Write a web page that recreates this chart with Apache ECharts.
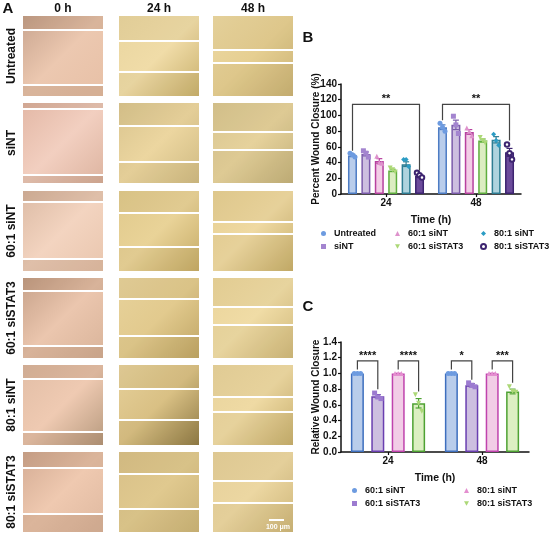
<!DOCTYPE html>
<html>
<head>
<meta charset="UTF-8">
<title>Wound closure</title>
<script src="https://cdn.jsdelivr.net/npm/echarts@6/dist/echarts.min.js"></script>
<style>
html,body{margin:0;padding:0;background:#fff;}
#main{width:550px;height:535px;}
</style>
</head>
<body>
<div id="main"></div>
<script>
// ---- data ----
var times = ['24', '48'];

// panel B
var bGroups = ['Untreated', 'siNT', '60:1 siNT', '60:1 siSTAT3', '80:1 siNT', '80:1 siSTAT3'];
var bMean = [[49, 85], [51, 88], [42, 79], [30, 68], [38, 69], [23, 53]];
var bSem = [[1.5, 3], [2.5, 6], [3, 3], [1.5, 2], [3, 4], [2, 5]];
var bPoints = [
  [[52, 50, 47], [90, 85, 80]],
  [[55, 52, 47], [99, 88, 77]],
  [[48, 40, 39], [84, 80, 74]],
  [[33, 31, 28], [72, 68, 65]],
  [[44, 44, 35], [76, 68, 62]],
  [[27, 24, 21], [63, 52, 44]]
];
var bYTicks = [0, 20, 40, 60, 80, 100, 120, 140];
// [time index, from bar, to bar, bracket level, left leg end, right leg end, label]
var bSig = [
  [0, 0, 5, 114, 55, 30, '**'],
  [1, 0, 5, 114, 94, 68, '**']
];

// panel C
var cGroups = ['60:1 siNT', '60:1 siSTAT3', '80:1 siNT', '80:1 siSTAT3'];
var cMean = [[1.0, 1.0], [0.71, 0.85], [1.0, 1.0], [0.62, 0.77]];
var cSem = [[0, 0], [0.02, 0.02], [0, 0], [0.06, 0.03]];
var cPoints = [
  [[1.0, 1.0, 1.0], [1.0, 1.0, 1.0]],
  [[0.75, 0.70, 0.68], [0.88, 0.85, 0.83]],
  [[1.0, 1.0, 1.0], [1.0, 1.0, 1.0]],
  [[0.73, 0.62, 0.52], [0.83, 0.77, 0.76]]
];
var cYTicks = [0, 0.2, 0.4, 0.6, 0.8, 1.0, 1.2, 1.4];
var cSig = [
  [0, 0, 1, 1.16, 1.05, 0.80, '****'],
  [0, 2, 3, 1.16, 1.05, 0.77, '****'],
  [1, 0, 1, 1.16, 1.05, 0.92, '*'],
  [1, 2, 3, 1.16, 1.05, 0.88, '***']
];

// panel A labels
var rowLabels = ['Untreated', 'siNT', '60:1 siNT', '60:1 siSTAT3', '80:1 siNT', '80:1 siSTAT3'];
var colLabels = ['0 h', '24 h', '48 h'];

// ---- styles ----
var FONT = 'Liberation Sans, Arial, sans-serif';
var bStyle = [
  {fill: '#b9cdeb', line: '#4d7cc4', pt: '#6d9be0', sym: 'circle'},
  {fill: '#cdbfe0', line: '#7b5cab', pt: '#a384cf', sym: 'rect'},
  {fill: '#f2cde6', line: '#b7419f', pt: '#de92cc', sym: 'triangle'},
  {fill: '#dcedc2', line: '#5fae3e', pt: '#acd877', sym: 'path://M0,0L10,0L5,9Z'},
  {fill: '#aed3de', line: '#2e7d93', pt: '#2b9cc4', sym: 'diamond'},
  {fill: '#6b4b9b', line: '#3d2470', pt: '#3d2470', sym: 'emptyCircle'}
];
var cStyle = [
  {fill: '#b9cdeb', line: '#3e6fbe', pt: '#6d9be0', sym: 'circle'},
  {fill: '#cdbfe0', line: '#6a3fb0', pt: '#9c7bd0', sym: 'rect'},
  {fill: '#f2cde6', line: '#c043ad', pt: '#e48fd0', sym: 'triangle'},
  {fill: '#dcefc2', line: '#4ea233', pt: '#acd877', sym: 'path://M0,0L10,0L5,9Z'}
];

// bar pitch in px for each panel
var bPitch = 13.4, bBarW = 9;
var cPitch = 20.4, cBarW = 13;

function axisCommon(gi) {
  return {
    gridIndex: gi,
    axisLine: {show: true, lineStyle: {color: '#111', width: 1.5}},
    axisTick: {show: true, length: 3, lineStyle: {color: '#111', width: 1.2}},
    axisLabel: {color: '#111', fontWeight: 'bold', fontSize: 10, fontFamily: FONT, margin: 4},
    splitLine: {show: false},
    nameMoveOverlap: false,
    nameTextStyle: {color: '#111', fontWeight: 'bold', fontSize: 10.5, fontFamily: FONT}
  };
}

var xB = axisCommon(0);
xB.type = 'category'; xB.data = times; xB.axisTick.alignWithLabel = true;
xB.name = 'Time (h)'; xB.nameLocation = 'middle'; xB.nameGap = 21;
var xC = axisCommon(1);
xC.type = 'category'; xC.data = times; xC.axisTick.alignWithLabel = true;
xC.name = 'Time (h)'; xC.nameLocation = 'middle'; xC.nameGap = 21;

var yB = axisCommon(0);
yB.type = 'value'; yB.min = 0; yB.max = 140; yB.interval = 20;
yB.name = 'Percent Wound Closure (%)'; yB.nameLocation = 'middle'; yB.nameGap = 20;
yB.nameTextStyle.fontSize = 10;
var yC = axisCommon(1);
yC.type = 'value'; yC.min = 0; yC.max = 1.4; yC.interval = 0.2;
yC.axisLabel.formatter = function (v) { return v.toFixed(1); };
yC.name = 'Relative Wound Closure'; yC.nameLocation = 'middle'; yC.nameGap = 20;
yC.nameTextStyle.fontSize = 10;

var series = [];

function addPanel(gi, groups, means, sems, points, styles, pitch, barW, sig, jit, symSize) {
  var n = groups.length;
  groups.forEach(function (g, i) {
    series.push({
      type: 'bar', name: g, xAxisIndex: gi, yAxisIndex: gi,
      barWidth: barW, barGap: Math.round((pitch - barW) / barW * 100) + '%',
      data: means[i],
      itemStyle: {color: styles[i].fill, borderColor: styles[i].line, borderWidth: 1.5},
      z: 2
    });
  });
  // error bars
  var errData = [];
  groups.forEach(function (g, i) {
    times.forEach(function (t, k) { errData.push([k, i, means[i][k], sems[i][k]]); });
  });
  series.push({
    type: 'custom', xAxisIndex: gi, yAxisIndex: gi, z: 3, silent: true,
    data: errData, encode: {x: 0, y: 2},
    renderItem: function (params, api) {
      var k = api.value(0), i = api.value(1), m = api.value(2), s = api.value(3);
      var dx = (i - (n - 1) / 2) * pitch;
      var top = api.coord([k, m + s]), bot = api.coord([k, m - s]);
      var x = top[0] + dx;
      var col = styles[i].line;
      return {type: 'group', children: [
        {type: 'line', shape: {x1: x, y1: top[1], x2: x, y2: bot[1]}, style: {stroke: col, lineWidth: 1.2}},
        {type: 'line', shape: {x1: x - 3, y1: top[1], x2: x + 3, y2: top[1]}, style: {stroke: col, lineWidth: 1.2}},
        {type: 'line', shape: {x1: x - 3, y1: bot[1], x2: x + 3, y2: bot[1]}, style: {stroke: col, lineWidth: 1.2}}
      ]};
    }
  });
  // individual points
  groups.forEach(function (g, i) {
    var dx = (i - (n - 1) / 2) * pitch;
    var d = [];
    times.forEach(function (t, k) {
      points[i][k].forEach(function (v, j) {
        d.push({value: [k, v], symbolOffset: [dx + (j - 1) * jit, 0]});
      });
    });
    var empty = styles[i].sym === 'emptyCircle';
    series.push({
      type: 'scatter', name: g, xAxisIndex: gi, yAxisIndex: gi, z: 4,
      symbol: styles[i].sym, symbolSize: empty ? 4.5 : symSize, data: d,
      itemStyle: {color: styles[i].pt, borderColor: styles[i].pt, borderWidth: empty ? 1 : 0, opacity: 1}
    });
  });
  // significance brackets
  series.push({
    type: 'custom', xAxisIndex: gi, yAxisIndex: gi, z: 5, silent: true,
    data: sig.map(function (r) { return [r[0], r[1], r[2], r[3], r[4], r[5]]; }),
    encode: {x: 0, y: 3},
    renderItem: function (params, api) {
      var r = sig[params.dataIndex];
      var c = api.coord([r[0], r[3]])[0];
      var x1 = c + (r[1] - (n - 1) / 2) * pitch;
      var x2 = c + (r[2] - (n - 1) / 2) * pitch;
      var yl = api.coord([r[0], r[3]])[1];
      var ya = api.coord([r[0], r[4]])[1];
      var yb = api.coord([r[0], r[5]])[1];
      return {type: 'group', children: [
        {type: 'polyline', shape: {points: [[x1, ya], [x1, yl], [x2, yl], [x2, yb]]},
          style: {stroke: '#444', lineWidth: 1.2, fill: null}},
        {type: 'text', x: (x1 + x2) / 2, y: yl - 5,
          style: {text: r[6], fill: '#111', font: 'bold 11px ' + FONT, align: 'center', verticalAlign: 'middle'}}
      ]};
    }
  });
}

addPanel(0, bGroups, bMean, bSem, bPoints, bStyle, bPitch, bBarW, bSig, 2.5, 5);
addPanel(1, cGroups, cMean, cSem, cPoints, cStyle, cPitch, cBarW, cSig, 3.2, 5);

function legendCol(left, top, names, styles, allNames) {
  return {
    orient: 'vertical', left: left, top: top, itemWidth: 5, itemHeight: 5, itemGap: 4,
    selectedMode: false, padding: 0,
    textStyle: {color: '#111', fontWeight: 'bold', fontSize: 9, fontFamily: FONT, padding: [0, 0, 0, 3]},
    data: names.map(function (nm) {
      var s = styles[allNames.indexOf(nm)];
      var empty = s.sym === 'emptyCircle';
      return {name: nm, icon: s.sym, itemStyle: {color: s.pt, borderColor: s.pt, borderWidth: empty ? 0.8 : 0}};
    })
  };
}

var legends = [
  legendCol(321, 229, ['Untreated', 'siNT'], bStyle, bGroups),
  legendCol(395, 229, ['60:1 siNT', '60:1 siSTAT3'], bStyle, bGroups),
  legendCol(480, 229, ['80:1 siNT', '80:1 siSTAT3'], bStyle, bGroups),
  legendCol(352, 486, ['60:1 siNT', '60:1 siSTAT3'], cStyle, cGroups),
  legendCol(464, 486, ['80:1 siNT', '80:1 siSTAT3'], cStyle, cGroups)
];

// ---- panel A: micrograph placeholders ----
var imgX = [23, 119, 213], imgY = [16, 103, 191, 278, 365, 452], imgS = 80;
// white wound-edge lines per row, per column (y positions)
var edges = [
  [[30, 85], [41, 72], [50, 63]],
  [[109, 175], [126, 162], [132, 150]],
  [[202, 259], [213, 247], [222, 234]],
  [[291, 346], [299, 336], [307, 325]],
  [[379, 432], [389, 420], [397, 412]],
  [[468, 514], [474, 509], [481, 503]]
];
var tints = [
  [['#c9a58f', '#ecc8b0', '#e7c0a6'], ['#e9d59f', '#f0dca8', '#c8b06c'], ['#ecd8a2', '#e6cf92', '#c9b174']],
  [['#e3b8a6', '#f2cfc0', '#ddb4a0'], ['#d9c48e', '#ecd6a0', '#cfba82'], ['#d8c590', '#e6d29c', '#c2b07a']],
  [['#dcbba5', '#f3d4c0', '#e9c6ae'], ['#e0c98c', '#e9d398', '#c5ab66'], ['#e6cf92', '#efd9a2', '#c7ae6a']],
  [['#c7a28a', '#ebc6ae', '#d9b49a'], ['#e7d29b', '#e2ca8e', '#bfa564'], ['#ead49a', '#f0dca6', '#cfb87a']],
  [['#e2bea6', '#efcab2', '#b79a7e'], ['#e6d09a', '#d9c084', '#8f7a45'], ['#e8d39c', '#efdaa4', '#c6ae6c']],
  [['#d4ac94', '#efc9b0', '#dfb9a0'], ['#d8c088', '#e0c98f', '#cbb377'], ['#e6d09a', '#ecd7a2', '#cdb578']]
];

var graphics = [];
imgY.forEach(function (y0, r) {
  imgX.forEach(function (x0, c) {
    var t = tints[r][c];
    graphics.push({type: 'rect', shape: {x: x0, y: y0, width: imgS, height: imgS}, silent: true,
      style: {fill: {type: 'linear', x: 0, y: 0, x2: 1, y2: 1,
        colorStops: [{offset: 0, color: t[0]}, {offset: 0.5, color: t[1]}, {offset: 1, color: t[2]}]}}});
    var e = edges[r][c];
    var shade = c === 0 ? 'rgba(120,80,50,0.16)' : 'rgba(110,90,30,0.06)';
    graphics.push({type: 'rect', silent: true, shape: {x: x0, y: y0, width: imgS, height: e[0] - y0}, style: {fill: shade}});
    graphics.push({type: 'rect', silent: true, shape: {x: x0, y: e[1], width: imgS, height: y0 + imgS - e[1]}, style: {fill: shade}});
    e.forEach(function (yy) {
      graphics.push({type: 'line', silent: true, shape: {x1: x0, y1: yy, x2: x0 + imgS, y2: yy}, style: {stroke: '#fff', lineWidth: 2}});
    });
  });
  graphics.push({type: 'text', x: 12, y: y0 + imgS / 2, rotation: Math.PI / 2, silent: true,
    style: {text: rowLabels[r], fill: '#111', font: 'bold 12px ' + FONT, align: 'center', verticalAlign: 'middle'}});
});
colLabels.forEach(function (lb, c) {
  graphics.push({type: 'text', x: imgX[c] + imgS / 2, y: 9, silent: true,
    style: {text: lb, fill: '#111', font: 'bold 12px ' + FONT, align: 'center', verticalAlign: 'middle'}});
});
// scale bar
graphics.push({type: 'line', silent: true, shape: {x1: 269, y1: 520, x2: 284, y2: 520}, style: {stroke: '#fff', lineWidth: 2}});
graphics.push({type: 'text', x: 278, y: 527, silent: true,
  style: {text: '100 μm', fill: '#fff', font: 'bold 7px ' + FONT, align: 'center', verticalAlign: 'middle'}});
// panel letters
[['A', 8, 9], ['B', 308, 38], ['C', 308, 307]].forEach(function (p) {
  graphics.push({type: 'text', x: p[1], y: p[2], silent: true,
    style: {text: p[0], fill: '#111', font: 'bold 15px ' + FONT, align: 'center', verticalAlign: 'middle'}});
});

var chart = echarts.init(document.getElementById('main'), null, {renderer: 'canvas'});
chart.setOption({
  animation: false,
  backgroundColor: '#fff',
  grid: [
    {left: 341, top: 84, width: 180, height: 110},
    {left: 341, top: 342, width: 188, height: 110}
  ],
  xAxis: [xB, xC],
  yAxis: [yB, yC],
  legend: legends,
  graphic: graphics,
  series: series
});
</script>
</body>
</html>
